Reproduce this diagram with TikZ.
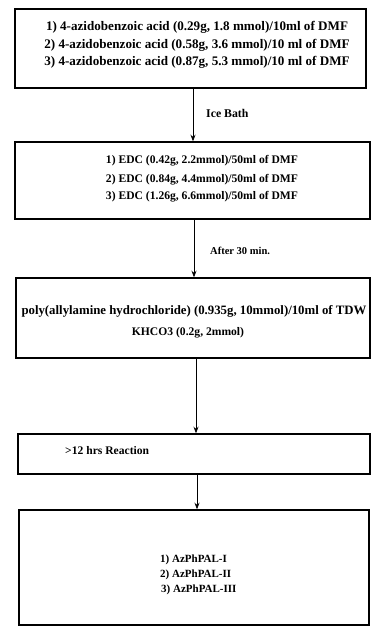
\documentclass[tikz,border=0pt]{standalone}
\usepackage{fontspec}
\setmainfont{Liberation Serif}
\usetikzlibrary{arrows.meta}
\begin{document}
\begin{tikzpicture}[x=1pt,y=-1pt,
  boxnode/.style={draw, line width=1.5pt, inner sep=0pt},
  txt/.style={inner sep=0pt, anchor=center},
  flow/.style={line width=0.7pt, -{Stealth[length=6.5pt,width=5pt]}},
  lbl/.style={inner sep=0pt, anchor=west}]
\useasboundingbox (0,0) rectangle (371,627);
% boxes
\node[boxnode, minimum width=351pt, minimum height=79pt] (b1) at (190.5,48.5) {};
\node[boxnode, minimum width=355pt, minimum height=77pt] (b2) at (192.5,180.5) {};
\node[boxnode, minimum width=354pt, minimum height=80pt] (b3) at (193,318) {};
\node[boxnode, minimum width=352pt, minimum height=40pt] (b4) at (194,454) {};
\node[boxnode, minimum width=350pt, minimum height=115pt] (b5) at (194,567.5) {};
% box 1 text
\begin{scope}[font=\bfseries\fontsize{13.1}{16}\selectfont]
\node[txt] (t11) at (197,27) {1) 4-azidobenzoic acid (0.29g, 1.8 mmol)/10ml of DMF};
\node[txt] (t12) at (197,45) {2) 4-azidobenzoic acid (0.58g, 3.6 mmol)/10 ml of DMF};
\node[txt] (t13) at (197,62) {3) 4-azidobenzoic acid (0.87g, 5.3 mmol)/10 ml of DMF};
\end{scope}
\begin{scope}[font=\bfseries\fontsize{11.6}{15}\selectfont]
\node[txt] (t21) at (202,161) {1) EDC (0.42g, 2.2mmol)/50ml of DMF};
\node[txt] (t22) at (202,180) {2) EDC (0.84g, 4.4mmol)/50ml of DMF};
\node[txt] (t23) at (202,197) {3) EDC (1.26g, 6.6mmol)/50ml of DMF};
\end{scope}
\node[txt, font=\bfseries\fontsize{12.8}{16}\selectfont] (t31) at (194,311) {poly(allylamine hydrochloride) (0.935g, 10mmol)/10ml of TDW};
\begin{scope}[font=\bfseries\fontsize{11.6}{15}\selectfont]
\node[txt] (t32) at (188,333) {KHCO3 (0.2g, 2mmol)};
\node[txt, anchor=west] (t41) at (65,451) {>12 hrs Reaction};
\end{scope}
\begin{scope}[font=\bfseries\fontsize{11}{14}\selectfont]
\node[txt, anchor=west] (t51) at (160,560) {1) AzPhPAL-I};
\node[txt, anchor=west] (t52) at (160,575) {2) AzPhPAL-II};
\node[txt, anchor=west] (t53) at (161,590) {3) AzPhPAL-III};
\end{scope}
% arrows
\coordinate (x1) at (193,0);
\coordinate (x2) at (194,0);
\coordinate (x3) at (196,0);
\coordinate (x4) at (197,0);
\draw[flow] (b1.south -| x1) -- (b2.north -| x1);
\draw[flow] (b2.south -| x2) -- (b3.north -| x2);
\draw[flow] (b3.south -| x3) -- (b4.north -| x3);
\draw[flow] (b4.south -| x4) -- (b5.north -| x4);
\node[lbl, font=\bfseries\fontsize{11.8}{14}\selectfont] (l1) at (206,113) {Ice Bath};
\node[lbl, font=\bfseries\fontsize{10.5}{14}\selectfont] (l2) at (210,251) {After 30 min.};
\end{tikzpicture}
\end{document}
